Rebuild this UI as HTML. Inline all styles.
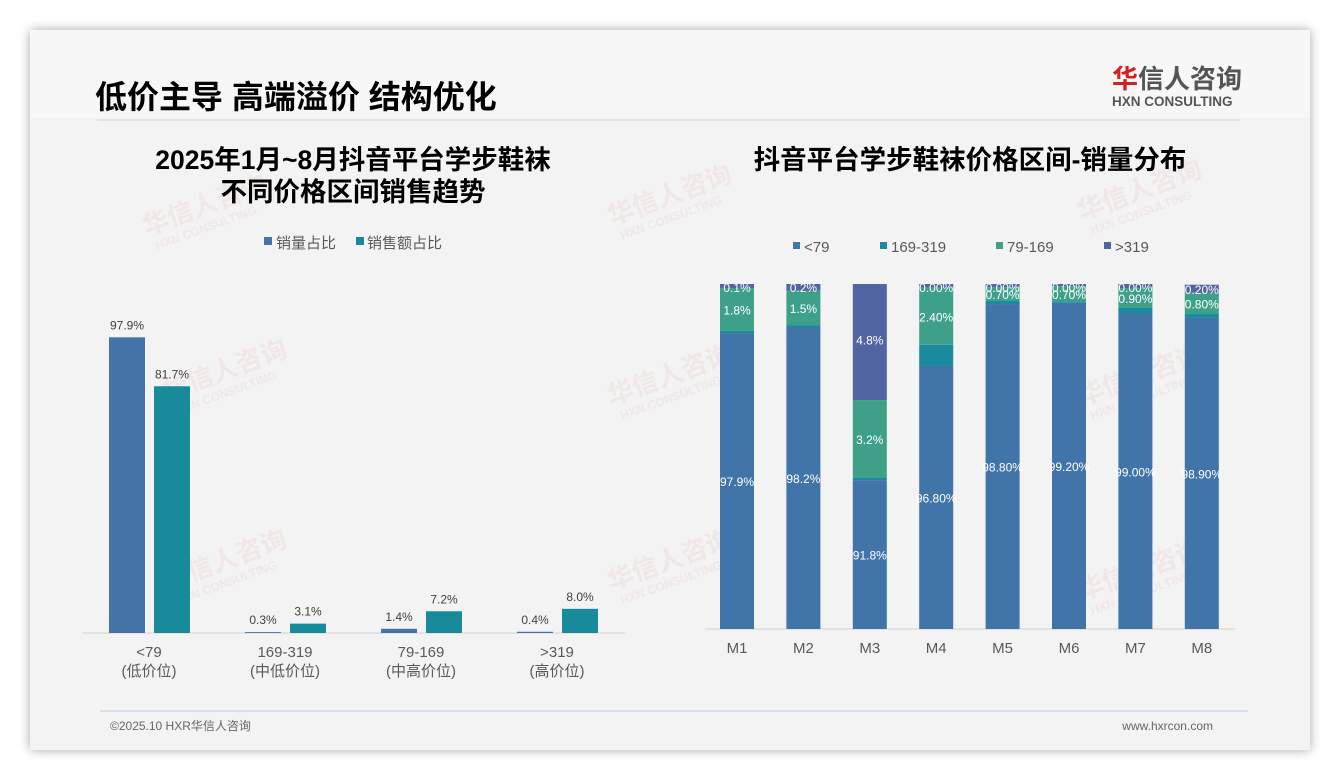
<!DOCTYPE html>
<html><head><meta charset="utf-8">
<style>
body{margin:0;width:1340px;height:780px;background:#ffffff;overflow:hidden;font-family:"Liberation Sans","Noto Sans CJK SC",sans-serif;}
#slide{position:absolute;left:30px;top:30px;width:1280px;height:720px;background:#f3f3f3;box-shadow:0 0 10px rgba(0,0,0,0.35);}
</style></head>
<body>
<div id="slide"></div>
<svg width="1340" height="780" style="position:absolute;left:0;top:0" font-family="Liberation Sans, Noto Sans CJK SC, sans-serif">
  <rect x="30" y="30" width="1280" height="88" fill="#f7f7f7"/>
  <g fill="#e06060" opacity="0.08" font-weight="bold">
    <g transform="rotate(-20 150 245)"><text x="150" y="235" font-size="26">华信人咨询</text><text x="155" y="252" font-size="12">HXN CONSULTING</text></g>
    <g transform="rotate(-20 170 410)"><text x="170" y="400" font-size="26">华信人咨询</text><text x="175" y="417" font-size="12">HXN CONSULTING</text></g>
    <g transform="rotate(-20 170 600)"><text x="170" y="590" font-size="26">华信人咨询</text><text x="175" y="607" font-size="12">HXN CONSULTING</text></g>
    <g transform="rotate(-20 615 235)"><text x="615" y="225" font-size="26">华信人咨询</text><text x="620" y="242" font-size="12">HXN CONSULTING</text></g>
    <g transform="rotate(-20 615 415)"><text x="615" y="405" font-size="26">华信人咨询</text><text x="620" y="422" font-size="12">HXN CONSULTING</text></g>
    <g transform="rotate(-20 615 600)"><text x="615" y="590" font-size="26">华信人咨询</text><text x="620" y="607" font-size="12">HXN CONSULTING</text></g>
    <g transform="rotate(-20 1085 230)"><text x="1085" y="220" font-size="26">华信人咨询</text><text x="1090" y="237" font-size="12">HXN CONSULTING</text></g>
    <g transform="rotate(-20 1085 415)"><text x="1085" y="405" font-size="26">华信人咨询</text><text x="1090" y="422" font-size="12">HXN CONSULTING</text></g>
    <g transform="rotate(-20 1085 610)"><text x="1085" y="600" font-size="26">华信人咨询</text><text x="1090" y="617" font-size="12">HXN CONSULTING</text></g>
  </g>
  <text x="95" y="108" font-size="32" font-weight="bold" fill="#000">低价主导 高端溢价 结构优化</text>
  <line x1="97" y1="120" x2="1240" y2="120" stroke="#dcdcdc" stroke-width="1.5"/>
  <g>
    <text x="1112" y="88" font-size="26" font-weight="bold" fill="#d42020">华</text>
    <text x="1138" y="88" font-size="26" font-weight="bold" fill="#555">信人咨询</text>
    <text x="1112" y="106" font-size="13.5" font-weight="bold" fill="#555">HXN CONSULTING</text>
  </g>
  <text x="353" y="169" text-anchor="middle" font-size="26.5" font-weight="bold" fill="#000">2025年1月~8月抖音平台学步鞋袜</text>
  <text x="353" y="201" text-anchor="middle" font-size="26.5" font-weight="bold" fill="#000">不同价格区间销售趋势</text>
  <text x="970" y="169" text-anchor="middle" font-size="26.5" font-weight="bold" fill="#000">抖音平台学步鞋袜价格区间-销量分布</text>
  <g id="left"></g>
  <g id="right"></g>
  <line x1="100" y1="711" x2="1248" y2="711" stroke="#b8cde0" stroke-width="1"/>
  <text x="110" y="730" font-size="12" fill="#666">©2025.10 HXR华信人咨询</text>
  <text x="1213" y="730" text-anchor="end" font-size="12" fill="#666">www.hxrcon.com</text>
  <defs><clipPath id="rclip"><rect x="700" y="284" width="560" height="345"/></clipPath></defs>
</svg>
<script>
const NS='http://www.w3.org/2000/svg';
function mk(parent,tag,attrs,txt){const e=document.createElementNS(NS,tag);for(const k in attrs)e.setAttribute(k,attrs[k]);if(txt!==undefined)e.textContent=txt;parent.appendChild(e);return e;}

// ---- Left chart data ----
const leftCats=['<79','169-319','79-169','>319'];
const leftSub=['(低价位)','(中低价位)','(中高价位)','(高价位)'];
const volShare=[97.9,0.3,1.4,0.4];
const amtShare=[81.7,3.1,7.2,8.0];

// ---- Right chart data (stacked, visual units) ----
const months=['M1','M2','M3','M4','M5','M6','M7','M8'];
const sLow=[98,100,49.3,87.1,107.6,108,104.3,103];
const sMid=[0.7,0.5,0.7,7,1,0.5,2,1.3];
const sHighMid=[14.2,11.6,25.8,18.9,4.6,5,6.6,7];
const sHigh=[2,3,40,2,2,2,2,2.7];
const lblLow=['97.9%','98.2%','91.8%','96.80%','98.80%','99.20%','99.00%','98.90%'];
const lblMid=['0.2%','0.1%','0.3%','0.80%','0.50%','0.20%','0.20%','0.10%'];
const lblHighMid=['1.8%','1.5%','3.2%','2.40%','0.70%','0.70%','0.90%','0.80%'];
const lblHigh=['0.1%','0.2%','4.8%','0.00%','0.00%','0.00%','0.00%','0.20%'];

const L=document.getElementById('left');
const lBase=633, lPx=3.02;
const ly=v=>lBase-v*lPx;
const lx=i=>149+i*136;
mk(L,'line',{x1:82,y1:lBase,x2:625,y2:lBase,stroke:'#d0d0d0','stroke-width':1});
let lg=mk(L,'rect',{x:264,y:237,width:8,height:8,fill:'#4373a9'});


lg=mk(L,'text',{x:276,y:248,'font-size':15,fill:'#595959'},'销量占比');


lg=mk(L,'rect',{x:356,y:237,width:8,height:8,fill:'#178a9c'});


lg=mk(L,'text',{x:367,y:248,'font-size':15,fill:'#595959'},'销售额占比');


leftCats.forEach((c,i)=>{
  const cx=lx(i);
  let r=mk(L,'rect',{x:cx-40,y:ly(volShare[i]),width:36,height:volShare[i]*lPx,fill:'#4373a9'});
  
  
  let t=mk(L,'text',{x:cx-22,y:ly(volShare[i])-8,'text-anchor':'middle','font-size':12,fill:'#404040'},volShare[i].toFixed(1)+'%');
  
  
  r=mk(L,'rect',{x:cx+5,y:ly(amtShare[i]),width:36,height:amtShare[i]*lPx,fill:'#178a9c'});
  
  
  t=mk(L,'text',{x:cx+23,y:ly(amtShare[i])-8,'text-anchor':'middle','font-size':12,fill:'#404040'},amtShare[i].toFixed(1)+'%');
  
  
  t=mk(L,'text',{x:cx,y:657,'text-anchor':'middle','font-size':15,fill:'#595959'},c);
  
  
  t=mk(L,'text',{x:cx,y:676,'text-anchor':'middle','font-size':15,fill:'#595959'},leftSub[i]);
  
  
});

const R=document.getElementById('right');
const rBase=629, rPx=3.02;
const rx=i=>737+i*66.4;
mk(R,'line',{x1:705,y1:rBase,x2:1235,y2:rBase,stroke:'#d0d0d0','stroke-width':1});
const legs=[['<79','#4174a8',793],['169-319','#1b8a9e',880],['79-169','#3fa08a',996],['>319','#5265a3',1104]];
legs.forEach((l,k)=>{
  let e=mk(R,'rect',{x:l[2],y:242,width:7,height:7,fill:l[1]});
  
  
  e=mk(R,'text',{x:l[2]+11,y:252,'font-size':15,fill:'#595959'},l[0]);
  
  
});
const clipG=mk(R,'g',{'clip-path':'url(#rclip)'});
const series=[[sLow,'#4174a8',lblLow],[sMid,'#1b8a9e',lblMid],[sHighMid,'#3fa08a',lblHighMid],[sHigh,'#5265a3',lblHigh]];
months.forEach((m,i)=>{
  let acc=0;
  const cx=rx(i);
  series.forEach((s,k)=>{
    const v=s[0][i];
    const y0=rBase-acc*rPx, y1=rBase-(acc+v)*rPx;
    let r=mk(clipG,'rect',{x:cx-17,y:y1,width:34,height:v*rPx,fill:s[1]});
    
    
    let ty=(y0+y1)/2+5;
    if(k===1) ty=y1-2;
    if(ty<292) ty=292;
    let t=mk(clipG,'text',{x:cx,y:ty,'text-anchor':'middle','font-size':12,fill:'#ffffff'},s[2][i]);
    
    
    acc+=v;
  });
  let t=mk(R,'text',{x:cx,y:653,'text-anchor':'middle','font-size':15,fill:'#595959'},m);
  
  
});
</script>
</body></html>
